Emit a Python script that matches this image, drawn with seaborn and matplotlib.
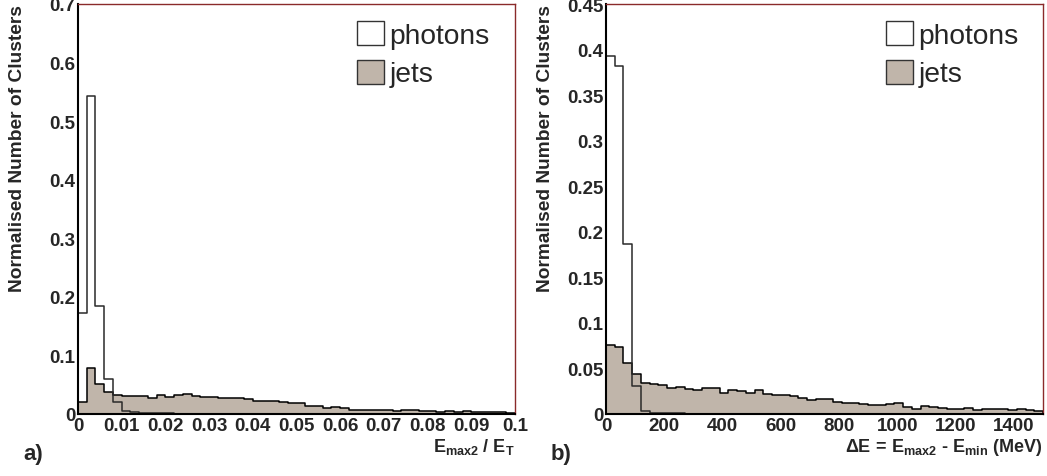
import numpy as np
import pandas as pd
import matplotlib
matplotlib.use("Agg")
import matplotlib.pyplot as plt
from matplotlib.patches import Patch
from matplotlib.ticker import MultipleLocator, FormatStrFormatter
import seaborn as sns

# ---- binned, normalised cluster distributions (50 bins per panel) ----
ratio_edges = np.linspace(0.0, 0.1, 51)          # E_max2 / E_T
delta_edges = np.linspace(0.0, 1500.0, 51)       # Delta E in MeV

ratio_photons = [0.172, 0.543, 0.184, 0.060, 0.020, 0.0055, 0.003, 0.0015, 0.0012, 0.001,
                 0.001, 0.0008, 0.0007, 0.0006, 0.0005, 0.0004, 0.0004, 0.0003, 0.0003, 0.0002,
                 0.0002, 0.0002, 0.0001, 0.0001, 0.0001, 0.0001, 0.0001, 0.0, 0.0, 0.0,
                 0.0, 0.0, 0.0, 0.0, 0.0, 0.0, 0.0, 0.0, 0.0, 0.0,
                 0.0, 0.0, 0.0, 0.0, 0.0, 0.0, 0.0, 0.0, 0.0, 0.0]
ratio_jets = [0.020, 0.079, 0.052, 0.037, 0.033, 0.031, 0.030, 0.030, 0.028, 0.032,
              0.029, 0.032, 0.034, 0.030, 0.029, 0.0295, 0.028, 0.0265, 0.028, 0.025,
              0.022, 0.0215, 0.0225, 0.020, 0.019, 0.019, 0.014, 0.014, 0.0105, 0.012,
              0.0105, 0.0065, 0.007, 0.007, 0.0075, 0.007, 0.005, 0.007, 0.0064, 0.0046,
              0.0046, 0.003, 0.0046, 0.003, 0.0046, 0.003, 0.004, 0.0035, 0.004, 0.0023]

delta_photons = [0.393, 0.382, 0.187, 0.031, 0.003, 0.0012, 0.0008, 0.0015, 0.0008, 0.0005,
                 0.0004, 0.0003, 0.0003, 0.0002, 0.0002, 0.0001, 0.0001, 0.0001, 0.0, 0.0,
                 0.0, 0.0, 0.0, 0.0, 0.0, 0.0, 0.0, 0.0, 0.0, 0.0,
                 0.0, 0.0, 0.0, 0.0, 0.0, 0.0, 0.0, 0.0, 0.0, 0.0,
                 0.0, 0.0, 0.0, 0.0, 0.0, 0.0, 0.0, 0.0, 0.0, 0.0]
delta_jets = [0.0756, 0.073, 0.056, 0.044, 0.0335, 0.0325, 0.032, 0.028, 0.030, 0.027,
              0.0265, 0.0285, 0.0285, 0.0235, 0.0265, 0.025, 0.0235, 0.026, 0.0215, 0.021,
              0.021, 0.0200, 0.0172, 0.015, 0.0168, 0.0168, 0.0135, 0.0124, 0.0117, 0.0106,
              0.0095, 0.0100, 0.0106, 0.0117, 0.008, 0.0058, 0.0088, 0.008, 0.0062, 0.005,
              0.0058, 0.0062, 0.004, 0.005, 0.005, 0.0058, 0.004, 0.005, 0.004, 0.0037]

series_labels = ["photons", "jets"]
ylabel = "Normalised Number of Clusters"
xlabel_a = r"$\mathbf{E_{max2}\ /\ E_{T}}$"
xlabel_b = r"$\mathbf{\Delta E\ \!=\ \!E_{max2}\ ‐\ E_{min}\ (MeV)}$"

JET_FILL = "#c0b5aa"
FRAME_RED = "#8a2a2a"

sns.set_style("white")
plt.rcParams["font.family"] = ["Liberation Sans", "DejaVu Sans"]
plt.rcParams["mathtext.fontset"] = "custom"
plt.rcParams["mathtext.rm"] = "Liberation Sans"
plt.rcParams["mathtext.bf"] = "Liberation Sans:bold"
plt.rcParams["mathtext.it"] = "Liberation Sans:italic"

W, H = 1047, 477
fig = plt.figure(figsize=(W / 100, H / 100), dpi=100)


def px_axes(x0, x1, y0, y1):
    return fig.add_axes([x0 / W, 1 - y1 / H, (x1 - x0) / W, (y1 - y0) / H])


def draw_panel(ax, edges, photons, jets, ymax, xmajor, xminor, ymajor, yminor):
    centers = 0.5 * (edges[:-1] + edges[1:])
    bins = [float(e) for e in edges]
    table = pd.DataFrame({"x": centers, "photons": photons, "jets": jets})
    sns.histplot(data=table, x="x", weights="jets", bins=bins, element="step", fill=True,
                 facecolor=JET_FILL, edgecolor="black", linewidth=1.1, alpha=1.0, ax=ax)
    sns.histplot(data=table, x="x", weights="photons", bins=bins, element="step", fill=False,
                 color="#2a2a2a", linewidth=1.1, ax=ax)
    ax.set_xlim(edges[0], edges[-1])
    ax.set_ylim(0, ymax)
    ax.set_xlabel("")
    ax.set_ylabel("")
    ax.xaxis.set_major_locator(MultipleLocator(xmajor))
    ax.xaxis.set_minor_locator(MultipleLocator(xminor))
    ax.yaxis.set_major_locator(MultipleLocator(ymajor))
    ax.yaxis.set_minor_locator(MultipleLocator(yminor))
    ax.xaxis.set_major_formatter(FormatStrFormatter("%g"))
    ax.yaxis.set_major_formatter(FormatStrFormatter("%g"))
    ax.tick_params(axis="both", which="both", direction="in", top=False, right=False,
                   width=1.1, color="black")
    ax.tick_params(axis="x", which="major", length=7.6, pad=2)
    ax.tick_params(axis="x", which="minor", length=3.6)
    ax.tick_params(axis="y", which="major", length=9.4, pad=2)
    ax.tick_params(axis="y", which="minor", length=4.7)
    for lab in ax.get_xticklabels() + ax.get_yticklabels():
        lab.set_fontsize(13.5)
        lab.set_fontweight("bold")
    for side in ("left", "bottom"):
        ax.spines[side].set_color("black")
        ax.spines[side].set_linewidth(1.5)
    for side in ("top", "right"):
        ax.spines[side].set_color(FRAME_RED)
        ax.spines[side].set_linewidth(1.0)


ax_a = px_axes(78, 515, 5, 415)
ax_b = px_axes(606, 1043, 5, 415)

draw_panel(ax_a, ratio_edges, ratio_photons, ratio_jets, 0.7, 0.01, 0.002, 0.1, 0.02)
draw_panel(ax_b, delta_edges, delta_photons, delta_jets, 0.45, 200, 40, 0.05, 0.01)

# legends
handles = [Patch(facecolor="white", edgecolor="#333333", linewidth=1.0),
           Patch(facecolor=JET_FILL, edgecolor="#333333", linewidth=1.0)]
for ax, x_left in ((ax_a, 357), (ax_b, 886)):
    x0 = ax.get_position().x0 * W
    w = ax.get_position().width * W
    ax.legend(handles, series_labels, loc="upper left",
              bbox_to_anchor=((x_left - x0) / w, 1 - 17 / 410),
              frameon=False, fontsize=20.3, handlelength=0.95, handleheight=0.95,
              handletextpad=0.2, labelspacing=0.38, borderpad=0.0, borderaxespad=0.0)

# axis titles (ROOT style: y title aligned to top, x title aligned to right)
fig.text(17.5 / W, 1 - 5 / H, ylabel, rotation=90, ha="center", va="top",
         fontsize=13.8, fontweight="bold")
fig.text(545.5 / W, 1 - 5 / H, ylabel, rotation=90, ha="center", va="top",
         fontsize=13.8, fontweight="bold")
fig.text(515 / W, 1 - 452 / H, xlabel_a, ha="right", va="baseline", fontsize=13)
fig.text(1042 / W, 1 - 452 / H, xlabel_b, ha="right", va="baseline", fontsize=13)

# panel tags
fig.text(23 / W, 1 - 460 / H, "a)", ha="left", va="baseline", fontsize=16, fontweight="bold")
fig.text(551 / W, 1 - 460 / H, "b)", ha="left", va="baseline", fontsize=16, fontweight="bold")

fig.savefig("out.png", dpi=100, facecolor="white")
